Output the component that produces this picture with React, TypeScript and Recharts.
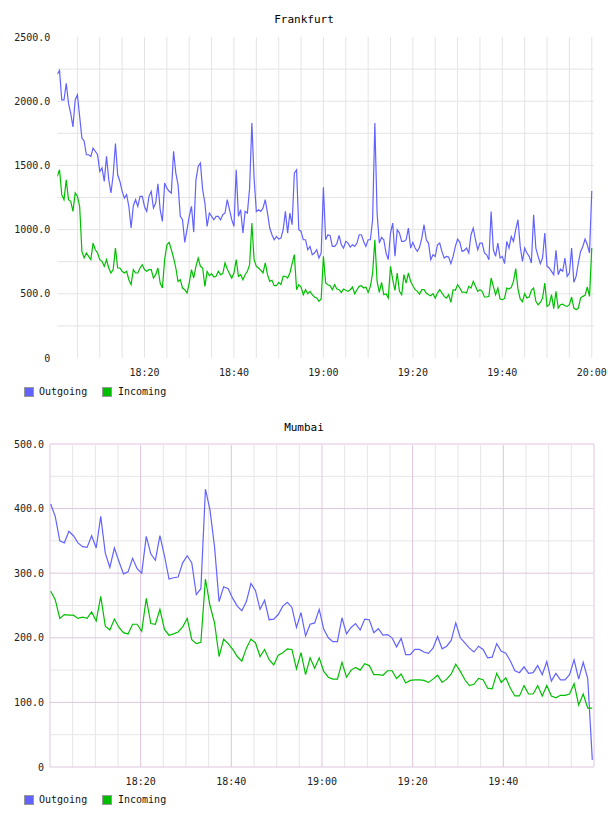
import React from 'react';
import { LineChart, Line, XAxis, YAxis, CartesianGrid } from 'recharts';

// x values are minutes after 18:00
const X_TICKS = [20, 40, 60, 80, 100, 120];
const X_LABELS = ['18:20', '18:40', '19:00', '19:20', '19:40', '20:00'];
const FIVE_MIN = [5, 10, 15, 20, 25, 30, 35, 40, 45, 50, 55, 60, 65, 70, 75, 80, 85, 90, 95, 100, 105, 110, 115, 120];
const MINOR_MIN = [5, 10, 15, 25, 30, 35, 45, 50, 55, 65, 70, 75, 85, 90, 95, 105, 110, 115];

const FRANKFURT_Y_TICKS = [0, 500, 1000, 1500, 2000, 2500];
const FRANKFURT_Y_LABELS = ['0', '500.0', '1000.0', '1500.0', '2000.0', '2500.0'];
const FRANKFURT_Y_GRID = [250, 500, 750, 1000, 1250, 1500, 1750, 2000, 2250];

const MUMBAI_Y_TICKS = [0, 100, 200, 300, 400, 500];
const MUMBAI_Y_LABELS = ['0', '100.0', '200.0', '300.0', '400.0', '500.0'];
const MUMBAI_Y_MINOR = [50, 150, 250, 350, 450];

// Frankfurt: one sample every 30s, first at 18:00:30
const FRANKFURT_START = 0.5;
const FRANKFURT_STEP = 0.5;
const FRANKFURT_OUT = [
  2210, 2240, 2010, 2010, 2140, 1985, 1905, 1800, 2010, 2050,
  1880, 1713, 1690, 1583, 1583, 1570, 1635, 1610, 1583, 1453,
  1480, 1375, 1570, 1390, 1285, 1427, 1670, 1427, 1375, 1298,
  1245, 1272, 1180, 1012, 1186, 1233, 1180, 1259, 1259, 1180,
  1142, 1259, 1298, 1168, 1207, 1357, 1155, 1064, 1362, 1323,
  1298, 1285, 1610, 1440, 1350, 1103, 1077, 900, 1000, 1103,
  1181, 980, 1388, 1492, 1518, 1311, 1207, 1025, 1129, 1103,
  1077, 1103, 1103, 1077, 1116, 1129, 1233, 1155, 1077, 1025,
  1466, 1103, 1155, 973, 1142, 1129, 1324, 1830, 1400, 1140,
  1155, 1142, 1168, 1233, 1129, 1012, 960, 921, 947, 926,
  934, 999, 1142, 973, 1129, 1038, 1440, 1466, 999, 986,
  921, 921, 843, 869, 804, 818, 843, 779, 818, 1330,
  921, 960, 952, 869, 869, 890, 955, 882, 856, 908,
  895, 864, 882, 869, 895, 960, 960, 908, 869, 921,
  921, 1077, 1830, 1129, 895, 939, 921, 818, 766, 973,
  1051, 792, 999, 973, 908, 908, 921, 1012, 856, 901,
  856, 830, 864, 934, 1038, 921, 895, 766, 804, 791,
  882, 895, 830, 779, 791, 786, 735, 791, 869, 926,
  901, 830, 838, 856, 818, 960, 1012, 921, 843, 895,
  895, 818, 804, 766, 1140, 843, 792, 895, 779, 791,
  735, 908, 856, 947, 908, 999, 1077, 869, 753, 856,
  818, 792, 740, 1116, 856, 792, 735, 779, 973, 714,
  701, 675, 649, 838, 649, 693, 675, 779, 636, 662,
  856, 589, 636, 740, 830, 869, 926, 882, 818, 1300,
];
const FRANKFURT_IN = [
  1414, 1466, 1272, 1233, 1388, 1233, 1220, 1142, 1285, 1259,
  1180, 830, 779, 818, 792, 766, 895, 843, 818, 766,
  753, 714, 766, 701, 662, 688, 856, 701, 701, 675,
  662, 675, 610, 571, 688, 662, 662, 701, 727, 688,
  675, 688, 688, 623, 649, 701, 584, 545, 766, 882,
  901, 843, 779, 701, 597, 610, 545, 532, 506, 584,
  688, 623, 714, 779, 714, 701, 558, 675, 641, 657,
  631, 636, 675, 649, 657, 740, 693, 657, 623, 662,
  766, 636, 649, 610, 649, 675, 727, 1051, 766, 714,
  701, 683, 662, 740, 649, 597, 605, 563, 563, 589,
  571, 636, 636, 623, 662, 735, 805, 532, 571, 553,
  493, 532, 501, 519, 493, 475, 467, 441, 460, 792,
  584, 571, 563, 532, 571, 537, 532, 511, 537, 527,
  519, 532, 553, 501, 532, 558, 563, 545, 553, 511,
  558, 662, 921, 597, 511, 589, 493, 501, 467, 714,
  610, 527, 662, 519, 493, 649, 584, 662, 597, 563,
  532, 519, 498, 532, 532, 506, 493, 485, 501, 467,
  506, 532, 506, 480, 467, 493, 433, 532, 527, 571,
  545, 511, 514, 506, 558, 545, 597, 558, 519, 532,
  519, 475, 475, 480, 623, 558, 493, 545, 460, 454,
  464, 545, 537, 550, 597, 696, 537, 460, 439, 501,
  467, 475, 527, 545, 441, 415, 433, 467, 584, 402,
  415, 493, 384, 519, 389, 415, 420, 407, 402, 415,
  475, 389, 376, 389, 467, 480, 488, 553, 480, 856,
];

// Mumbai: about one sample a minute
const MUMBAI_START = 0.15;
const MUMBAI_STEP = 1.004;
const MUMBAI_OUT = [
  407, 388, 350, 347, 365, 358, 347, 341, 340, 358,
  339, 388, 331, 309, 339, 318, 299, 302, 323, 307,
  300, 357, 330, 320, 358, 327, 291, 293, 294, 316,
  327, 316, 267, 276, 430, 398, 341, 256, 279, 276,
  261, 249, 242, 256, 284, 273, 244, 258, 228, 229,
  236, 249, 255, 247, 216, 239, 203, 221, 223, 244,
  213, 200, 194, 194, 231, 206, 216, 222, 212, 229,
  228, 208, 214, 204, 205, 200, 186, 199, 174, 174,
  182, 182, 178, 176, 184, 202, 183, 187, 196, 223,
  200, 192, 184, 178, 187, 182, 169, 170, 191, 179,
  176, 164, 149, 146, 155, 145, 146, 157, 143, 163,
  133, 145, 135, 135, 143, 166, 136, 162, 137, 11,
];
const MUMBAI_IN = [
  272, 259, 230, 236, 235, 235, 230, 232, 230, 240,
  226, 264, 218, 212, 229, 216, 208, 206, 221, 221,
  210, 261, 222, 221, 244, 213, 204, 206, 209, 217,
  230, 197, 191, 193, 291, 250, 223, 171, 198, 191,
  182, 171, 164, 184, 198, 192, 171, 182, 166, 158,
  173, 177, 183, 182, 152, 177, 143, 169, 153, 169,
  148, 139, 136, 136, 162, 139, 150, 154, 150, 160,
  157, 143, 143, 142, 149, 149, 137, 144, 130, 134,
  135, 135, 134, 131, 136, 142, 131, 136, 144, 159,
  148, 135, 126, 128, 137, 135, 122, 121, 145, 131,
  138, 122, 110, 110, 126, 113, 113, 126, 110, 126,
  110, 107, 111, 111, 113, 129, 96, 113, 91, 91,
];

const OUT_COLOR = '#6262ff';
const IN_COLOR = '#00bf00';
const MONO = "'DejaVu Sans Mono', monospace";
const tickStyle = { fontSize: 10, fill: '#222', fontFamily: MONO };

const frankfurtData = FRANKFURT_OUT.map((v, i) => ({
  t: FRANKFURT_START + i * FRANKFURT_STEP,
  out: v,
  inc: FRANKFURT_IN[i],
}));

const mumbaiData = MUMBAI_OUT.map((v, i) => ({
  t: MUMBAI_START + i * MUMBAI_STEP,
  out: v,
  inc: MUMBAI_IN[i],
}));

const timeLabel = (v: number) => X_LABELS[X_TICKS.indexOf(v)] ?? '';

function Title({ text, top }: { text: string; top: number }) {
  return (
    <div
      style={{
        position: 'absolute',
        left: 0,
        top,
        width: 608,
        textAlign: 'center',
        fontFamily: MONO,
        fontSize: 11,
        lineHeight: '12px',
        color: '#000',
      }}
    >
      {text}
    </div>
  );
}

function Swatch({ color, left, top }: { color: string; left: number; top: number }) {
  return (
    <div
      style={{
        position: 'absolute',
        left,
        top,
        width: 10,
        height: 10,
        boxSizing: 'border-box',
        border: '1px solid #999',
        background: color,
      }}
    />
  );
}

function LegendRow({ top }: { top: number }) {
  const text = {
    position: 'absolute' as const,
    top,
    fontFamily: MONO,
    fontSize: 10,
    lineHeight: '10px',
    color: '#111',
  };
  return (
    <>
      <Swatch color={OUT_COLOR} left={24} top={top} />
      <div style={{ ...text, left: 39 }}>Outgoing</div>
      <Swatch color={IN_COLOR} left={102} top={top} />
      <div style={{ ...text, left: 118 }}>Incoming</div>
    </>
  );
}

export default function App() {
  return (
    <div
      style={{
        position: 'absolute',
        left: 0,
        top: 0,
        width: 608,
        height: 816,
        overflow: 'hidden',
        background: '#fff',
      }}
    >
      <Title text="Frankfurt" top={14} />
      <div style={{ position: 'absolute', left: 0, top: 0 }}>
        <LineChart
          width={608}
          height={380}
          data={frankfurtData}
          margin={{ top: 37, right: 14, bottom: 0, left: 0 }}
        >
          <CartesianGrid
            stroke="#e4e4e4"
            horizontalValues={FRANKFURT_Y_GRID}
            verticalValues={FIVE_MIN}
          />
          <XAxis
            dataKey="t"
            type="number"
            domain={[0.5, 120.5]}
            ticks={X_TICKS}
            interval={0}
            tickFormatter={timeLabel}
            axisLine={false}
            tickLine={false}
            tickSize={0}
            tickMargin={11}
            height={22}
            tick={tickStyle}
            allowDataOverflow
          />
          <YAxis
            type="number"
            domain={[0, 2500]}
            ticks={FRANKFURT_Y_TICKS}
            interval={0}
            tickFormatter={(v: number) => FRANKFURT_Y_LABELS[FRANKFURT_Y_TICKS.indexOf(v)]}
            axisLine={false}
            tickLine={false}
            tickSize={0}
            tickMargin={7}
            width={57.3}
            tick={tickStyle}
            allowDataOverflow
          />
          <Line
            type="linear"
            dataKey="out"
            stroke={OUT_COLOR}
            strokeWidth={1.2}
            dot={false}
            isAnimationActive={false}
          />
          <Line
            type="linear"
            dataKey="inc"
            stroke={IN_COLOR}
            strokeWidth={1.2}
            dot={false}
            isAnimationActive={false}
          />
        </LineChart>
      </div>
      <LegendRow top={387} />

      <Title text="Mumbai" top={422} />
      <div style={{ position: 'absolute', left: 0, top: 410 }}>
        <LineChart
          width={608}
          height={380}
          data={mumbaiData}
          margin={{ top: 34, right: 14, bottom: 1, left: 0 }}
        >
          <CartesianGrid
            stroke="#e6e6e6"
            horizontalValues={MUMBAI_Y_MINOR}
            verticalValues={MINOR_MIN}
          />
          <CartesianGrid
            stroke="#dcc6dc"
            horizontalValues={[0, 100, 200, 300, 400]}
            verticalValues={[0, 20, 40, 60, 80, 100]}
          />
          <CartesianGrid
            stroke="#f0e0f0"
            strokeWidth={2}
            horizontalValues={[500]}
            verticalValues={[120]}
          />
          <XAxis
            dataKey="t"
            type="number"
            domain={[0, 120]}
            ticks={X_TICKS.slice(0, 5)}
            interval={0}
            tickFormatter={timeLabel}
            axisLine={false}
            tickLine={false}
            tickSize={0}
            tickMargin={11}
            height={22}
            tick={tickStyle}
            allowDataOverflow
          />
          <YAxis
            type="number"
            domain={[0, 500]}
            ticks={MUMBAI_Y_TICKS}
            interval={0}
            tickFormatter={(v: number) => MUMBAI_Y_LABELS[MUMBAI_Y_TICKS.indexOf(v)]}
            axisLine={false}
            tickLine={false}
            tickSize={0}
            tickMargin={6}
            width={50}
            tick={tickStyle}
            allowDataOverflow
          />
          <Line
            type="linear"
            dataKey="out"
            stroke={OUT_COLOR}
            strokeWidth={1.2}
            dot={false}
            isAnimationActive={false}
          />
          <Line
            type="linear"
            dataKey="inc"
            stroke={IN_COLOR}
            strokeWidth={1.2}
            dot={false}
            isAnimationActive={false}
          />
        </LineChart>
      </div>
      <LegendRow top={795} />
    </div>
  );
}
